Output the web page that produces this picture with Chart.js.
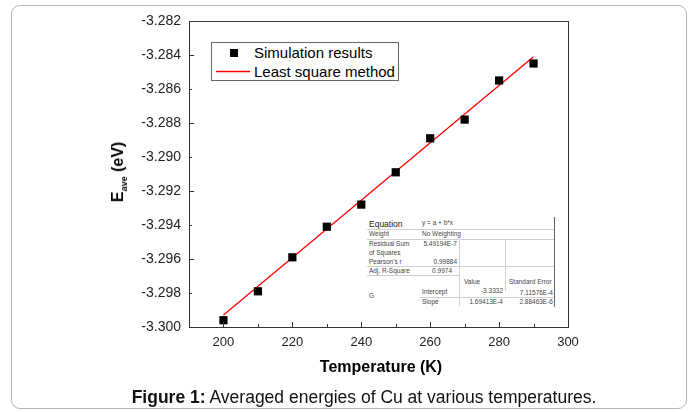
<!DOCTYPE html>
<html>
<head>
<meta charset="utf-8">
<script src="https://cdn.jsdelivr.net/npm/chart.js@4"></script>
<style>
  body { margin: 0; background: #fff; font-family: Arial, "Liberation Sans", sans-serif; }
  #wrap { position: relative; width: 693px; height: 412px; overflow: hidden; }
  #frame { position: absolute; left: 11px; top: 5px; width: 676px; height: 404px; border: 1px solid #b4b4b4; border-radius: 9px; box-sizing: border-box; }
  canvas { position: absolute; left: 0; top: 0; }
  .t { position: absolute; white-space: nowrap; color: #000; line-height: 1; }
  .s { position: absolute; white-space: nowrap; color: #444; font-size: 6.5px; line-height: 1; }
  .r { text-align: right; }
  .hl { position: absolute; height: 1px; background: #d0d0d0; }
  .vl { position: absolute; width: 1px; background: #d0d0d0; }
</style>
</head>
<body>
<div id="wrap">
  <div id="frame"></div>
  <canvas id="chart" width="693" height="412"></canvas>

  <!-- legend -->
  <div style="position:absolute;left:211px;top:42px;width:188px;height:39px;border:1px solid #666;box-sizing:border-box;background:#fff"></div>
  <div style="position:absolute;left:230px;top:49px;width:8px;height:8px;background:#000"></div>
  <svg style="position:absolute;left:216px;top:70px" width="34" height="3"><line x1="0" y1="1.5" x2="34" y2="1.5" stroke="#ff0000" stroke-width="1.4"/></svg>
  <div class="t" style="left:254px;top:45px;font-size:15px">Simulation results</div>
  <div class="t" style="left:254px;top:64px;font-size:15px">Least square method</div>

  <!-- fit statistics table -->
  <div style="position:absolute;left:366px;top:217px;width:189px;height:90px;background:#fff"></div>
  <div class="hl" style="left:367px;top:229px;width:188px"></div>
  <div class="hl" style="left:367px;top:239px;width:188px"></div>
  <div class="hl" style="left:367px;top:266px;width:188px"></div>
  <div class="hl" style="left:367px;top:275px;width:92px"></div>
  <div class="hl" style="left:420px;top:297px;width:135px"></div>
  <div class="vl" style="left:459px;top:239px;height:67px"></div>
  <div class="vl" style="left:505px;top:239px;height:52px"></div>
  <div class="vl" style="left:554px;top:217px;height:90px;background:#666"></div>
  <div class="s" style="left:369px;top:220px;font-size:8.5px;color:#222">Equation</div>
  <div class="s" style="left:422px;top:220px">y = a + b*x</div>
  <div class="s" style="left:369px;top:231px">Weight</div>
  <div class="s" style="left:422px;top:231px">No Weighting</div>
  <div class="s" style="left:369px;top:241px">Residual Sum</div>
  <div class="s" style="left:369px;top:250px">of Squares</div>
  <div class="s r" style="left:410px;width:47px;top:241px">5.49194E-7</div>
  <div class="s" style="left:369px;top:259px">Pearson's r</div>
  <div class="s r" style="left:410px;width:47px;top:259px">0.99884</div>
  <div class="s" style="left:369px;top:268px">Adj. R-Square</div>
  <div class="s r" style="left:410px;width:42px;top:268px">0.9974</div>
  <div class="s" style="left:464px;top:279px">Value</div>
  <div class="s" style="left:509px;top:279px">Standard Error</div>
  <div class="s" style="left:369px;top:293px">G</div>
  <div class="s" style="left:422px;top:289px">Intercept</div>
  <div class="s r" style="left:455px;width:48px;top:288px">-3.3332</div>
  <div class="s r" style="left:505px;width:48px;top:290px">7.11576E-4</div>
  <div class="s" style="left:422px;top:299px">Slope</div>
  <div class="s r" style="left:455px;width:48px;top:299px">1.69413E-4</div>
  <div class="s r" style="left:505px;width:48px;top:299px">2.88463E-6</div>

  <!-- axis titles -->
  <div class="t" style="left:118px;top:172px;font-size:16px;font-weight:bold;transform:translate(-50%,-50%) rotate(-90deg)">E<span style="font-size:9px;position:relative;top:4px">ave</span> (eV)</div>
  <div class="t" style="left:381px;top:359px;font-size:16px;font-weight:bold;transform:translateX(-50%)">Temperature (K)</div>

  <!-- caption -->
  <div class="t" style="left:364px;top:389px;font-size:17.5px;transform:translateX(-50%);color:#111"><b>Figure 1:</b> Averaged energies of Cu at various temperatures.</div>
</div>

<script>
// data
const temperatures = [200, 210, 220, 230, 240, 250, 260, 270, 280, 290];
const energies = [-3.2996, -3.2979, -3.2959, -3.2941, -3.2928, -3.2909, -3.2889, -3.2878, -3.2855, -3.2845];
// least square line ends
const fitTemps = [200, 290];
const fitEnergies = [-3.2993, -3.2841];
// axis ranges
const xRange = [190, 300];
const yRange = [-3.300, -3.282];

// inward ticks + frame box
const frameTicks = {
  id: 'frameTicks',
  afterDraw(chart) {
    const { ctx, chartArea: a, scales } = chart;
    ctx.save();
    ctx.strokeStyle = '#333';
    ctx.lineWidth = 1;
    ctx.strokeRect(a.left + 0.5, a.top + 0.5, a.right - a.left, a.bottom - a.top);
    ctx.beginPath();
    scales.x.ticks.forEach(t => {
      const px = Math.round(scales.x.getPixelForValue(t.value)) + 0.5;
      const len = t.value % 20 === 0 ? 5 : 3;
      ctx.moveTo(px, a.bottom);
      ctx.lineTo(px, a.bottom - len);
    });
    scales.y.ticks.forEach((t, i) => {
      const py = Math.round(scales.y.getPixelForValue(t.value)) + 0.5;
      const len = i % 2 === 0 ? 5 : 3;
      ctx.moveTo(a.left, py);
      ctx.lineTo(a.left + len, py);
    });
    ctx.stroke();
    ctx.restore();
  }
};

new Chart(document.getElementById('chart'), {
  type: 'scatter',
  data: {
    datasets: [
      {
        label: 'Simulation results',
        data: temperatures.map((t, i) => ({ x: t, y: energies[i] })),
        pointStyle: 'rect',
        pointRadius: 5.8,
        backgroundColor: '#000',
        borderColor: '#000',
        borderWidth: 0,
        order: 1
      },
      {
        label: 'Least square method',
        data: fitTemps.map((t, i) => ({ x: t, y: fitEnergies[i] })),
        showLine: true,
        pointRadius: 0,
        borderColor: '#ff0000',
        borderWidth: 1.3,
        order: 2
      }
    ]
  },
  options: {
    responsive: false,
    animation: false,
    layout: { padding: { left: 0, right: 125, top: 21, bottom: 0 } },
    plugins: { legend: { display: false }, tooltip: { enabled: false } },
    scales: {
      x: {
        type: 'linear',
        min: xRange[0],
        max: xRange[1],
        grid: { display: false, drawTicks: false },
        border: { display: false },
        ticks: {
          stepSize: 10,
          padding: 8,
          color: '#222',
          font: { family: 'Arial', size: 13 },
          callback: v => (v % 20 === 0 ? String(v) : '')
        },
        afterFit: s => { s.height = 85; }
      },
      y: {
        min: yRange[0],
        max: yRange[1],
        grid: { display: false, drawTicks: false },
        border: { display: false },
        ticks: {
          stepSize: 0.001,
          padding: 8,
          color: '#222',
          font: { family: 'Arial', size: 14 },
          callback: (v, i) => (i % 2 === 0 ? v.toFixed(3) : '')
        },
        afterFit: s => { s.width = 189; }
      }
    }
  },
  plugins: [frameTicks]
});
</script>
</body>
</html>
